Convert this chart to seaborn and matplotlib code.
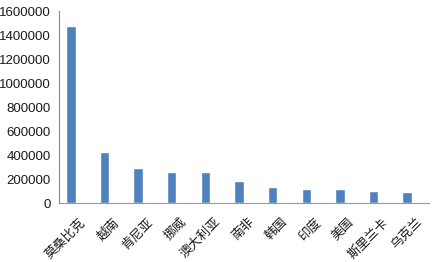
import matplotlib
matplotlib.use("Agg")
import matplotlib.pyplot as plt
import matplotlib.transforms as mtransforms
import seaborn as sns
import pandas as pd

countries = ["莫桑比克", "越南", "肯尼亚", "挪威", "澳大利亚", "南非", "韩国", "印度", "美国", "斯里兰卡", "乌克兰"]
values = [1475000, 422000, 290000, 258000, 255000, 186000, 130000, 119000, 117000, 97000, 94000]
yticks = [0, 200000, 400000, 600000, 800000, 1000000, 1200000, 1400000, 1600000]

sns.set_style("white")
plt.rcParams['font.family'] = ['Liberation Sans', 'Noto Sans CJK SC', 'DejaVu Sans']

df = pd.DataFrame({"country": countries, "value": values})
fig = plt.figure(figsize=(4.35, 2.62), dpi=100)
ax = fig.add_axes([0.136, 0.225, 0.85, 0.733])
sns.barplot(data=df, x="country", y="value", color="#4F81BD", saturation=1, width=0.28, ax=ax)
ax.set_ylim(0, 1600000)
ax.set_yticks(yticks)
ax.set_yticklabels([str(v) for v in yticks], fontsize=9.5, color="#1a1a1a")
ax.set_xlabel("")
ax.set_ylabel("")
ax.tick_params(axis="y", length=0, pad=6)
ax.tick_params(axis="x", length=0, pad=9)
offset = mtransforms.ScaledTranslation(8 / 100, 0, fig.dpi_scale_trans)
for lbl in ax.get_xticklabels():
    lbl.set_rotation(45)
    lbl.set_ha("right")
    lbl.set_rotation_mode("anchor")
    lbl.set_fontsize(9.2)
    lbl.set_family(['Noto Sans CJK SC', 'DejaVu Sans'])
    lbl.set_fontweight("light")
    lbl.set_color("#1a1a1a")
    lbl.set_transform(lbl.get_transform() + offset)
for s in ["top", "right"]:
    ax.spines[s].set_visible(False)
ax.spines["left"].set_color("#888888")
ax.spines["bottom"].set_color("#999999")
ax.spines["left"].set_linewidth(0.8)
ax.spines["bottom"].set_linewidth(0.8)
ax.set_xlim(-0.35, 10.65)
fig.savefig("out.png", dpi=100)
